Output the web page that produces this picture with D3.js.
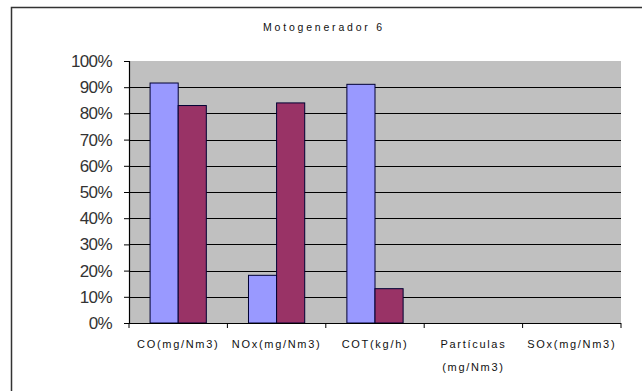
<!DOCTYPE html>
<html>
<head>
<meta charset="utf-8">
<script src="https://cdn.jsdelivr.net/npm/d3@7"></script>
<style>
  html, body { margin: 0; padding: 0; background: #fff; }
  svg { display: block; }
</style>
</head>
<body>
<svg id="chart" width="642" height="391"></svg>
<script>
// Emission reductions per pollutant, two series
const categories = [
  ["CO(mg/Nm3)"],
  ["NOx(mg/Nm3)"],
  ["COT(kg/h)"],
  ["Partículas", "(mg/Nm3)"],
  ["SOx(mg/Nm3)"]
];
const seriesA = [0.916, 0.182, 0.911, null, null];
const seriesB = [0.830, 0.840, 0.131, null, null];
const yTicks = [0, 0.1, 0.2, 0.3, 0.4, 0.5, 0.6, 0.7, 0.8, 0.9, 1.0];
const title = "Motogenerador 6";

const svg = d3.select("#chart");
const plot = { left: 129, right: 621, top: 61, bottom: 323 };

// Outer frame
svg.append("rect")
  .attr("x", 11.5).attr("y", 7.5)
  .attr("width", 700).attr("height", 500)
  .attr("fill", "none").attr("stroke", "#333").attr("stroke-width", 1.5);

// Title
svg.append("text")
  .attr("x", 324).attr("y", 31)
  .attr("text-anchor", "middle")
  .attr("font-family", "Liberation Sans, Arial, sans-serif")
  .attr("font-size", 10.5)
  .attr("letter-spacing", 2.8)
  .attr("fill", "#111")
  .text(title);

const x = d3.scaleBand()
  .domain(d3.range(categories.length))
  .range([plot.left, plot.right])
  .paddingInner(0).paddingOuter(0);

const y = d3.scaleLinear().domain([0, 1]).range([plot.bottom, plot.top]);

// Plot area background
svg.append("rect")
  .attr("x", plot.left).attr("y", plot.top)
  .attr("width", plot.right - plot.left).attr("height", plot.bottom - plot.top)
  .attr("fill", "#c0c0c0");

// Horizontal gridlines
svg.append("g").selectAll("line")
  .data(yTicks.filter(d => d > 0 && d < 1))
  .join("line")
  .attr("x1", plot.left).attr("x2", plot.right)
  .attr("y1", d => Math.round(y(d)) + 0.5).attr("y2", d => Math.round(y(d)) + 0.5)
  .attr("stroke", "#000").attr("stroke-width", 1);

// Bars: gap of 1.5 bar-widths shared between the two sides of a group
const bw = x.bandwidth() / 3.5;
const gap = bw * 0.75;
const series = [
  { values: seriesA, color: "#9999ff", off: 0 },
  { values: seriesB, color: "#993366", off: 1 }
];
series.forEach(s => {
  svg.append("g").selectAll("rect")
    .data(s.values.map((v, i) => ({ v, i })).filter(d => d.v != null))
    .join("rect")
    .attr("x", d => x(d.i) + gap + s.off * bw)
    .attr("y", d => y(d.v))
    .attr("width", bw)
    .attr("height", d => y(0) - y(d.v))
    .attr("fill", s.color)
    .attr("stroke", "#000033").attr("stroke-width", 1);
});

// Y axis
const yAxis = d3.axisLeft(y)
  .tickValues(yTicks)
  .tickFormat(d3.format(".0%"))
  .tickSize(5).tickPadding(12);
const gy = svg.append("g")
  .attr("transform", `translate(${plot.left},0)`)
  .call(yAxis);
gy.select(".domain").attr("stroke", "#000").attr("stroke-width", 1.2);
gy.selectAll(".tick line").attr("stroke", "#000");
gy.selectAll(".tick text")
  .attr("font-family", "Liberation Sans, Arial, sans-serif")
  .attr("font-size", 17)
  .attr("letter-spacing", -0.6)
  .attr("fill", "#333");

// X axis
const gx = svg.append("g")
  .attr("transform", `translate(0,${plot.bottom})`);
gx.append("line")
  .attr("x1", plot.left).attr("x2", plot.right)
  .attr("y1", 0.5).attr("y2", 0.5)
  .attr("stroke", "#000").attr("stroke-width", 1.2);
gx.selectAll(".xt")
  .data(d3.range(categories.length + 1))
  .join("line")
  .attr("x1", i => plot.left + i * x.step()).attr("x2", i => plot.left + i * x.step())
  .attr("y1", 0).attr("y2", 5)
  .attr("stroke", "#000");
const lbl = gx.selectAll(".xl")
  .data(categories)
  .join("text")
  .attr("text-anchor", "middle")
  .attr("font-family", "Liberation Sans, Arial, sans-serif")
  .attr("font-size", 11)
  .attr("letter-spacing", 1.7)
  .attr("fill", "#111")
  .attr("transform", (d, i) => `translate(${x(i) + x.bandwidth() / 2},25)`);
lbl.selectAll("tspan")
  .data(d => d)
  .join("tspan")
  .attr("x", 0)
  .attr("dy", (d, i) => i === 0 ? 0 : 23)
  .text(d => d);
</script>
</body>
</html>
